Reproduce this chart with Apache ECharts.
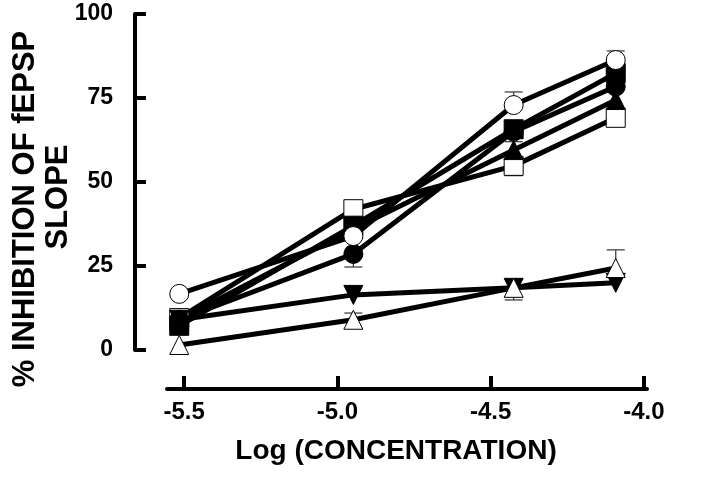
<!DOCTYPE html>
<html>
<head>
<meta charset="utf-8">
<script src="https://cdn.jsdelivr.net/npm/echarts@6/dist/echarts.min.js"></script>
<style>html,body{margin:0;padding:0;background:#fff}#c{width:720px;height:482px}</style>
</head>
<body>
<div id="c"></div>
<script>
// Log concentration of each dose (in axis units)
const xVals = [-5.516, -4.948, -4.425, -4.092];
const xTicks = [-5.5, -5.0, -4.5, -4.0];
const yTicks = [0, 25, 50, 75, 100];

// % inhibition of fEPSP slope
const openSquare    = [9.5, 41.9, 54.8, 69.1];
const filledTriangle= [9.0, 36.0, 59.5, 74.4];
const filledCircle  = [9.0, 28.6, 65.0, 78.4];
const filledSquare  = [7.2, 37.0, 65.7, 82.4];
const invTriangle   = [9.0, 16.4, 18.5, 20.0];
const openTriangle  = [1.5, 9.0, 18.5, 24.4];
const openCircle    = [16.7, 33.9, 72.9, 86.3];

// error bar ends (null = not shown)
const errOpenCircle   = [null, null, 76.8, 89.0];
const errFilledCircle = [null, 24.7, null, null];
const errFilledSquare = [null, null, 62.0, null];
const errOpenSquare   = [null, null, 51.9, null];
const errOpenTriangle = [null, 11.0, 14.9, 29.8];

const defs = [
  {vals: openSquare, err: errOpenSquare, symbol: 'rect', fill: '#fff', rot: 0},
  {vals: filledTriangle, err: null, symbol: 'triangle', fill: '#000', rot: 0},
  {vals: filledCircle, err: errFilledCircle, symbol: 'circle', fill: '#000', rot: 0},
  {vals: filledSquare, err: errFilledSquare, symbol: 'rect', fill: '#000', rot: 0},
  {vals: invTriangle, err: null, symbol: 'triangle', fill: '#000', rot: 180},
  {vals: openTriangle, err: errOpenTriangle, symbol: 'triangle', fill: '#fff', rot: 0},
  {vals: openCircle, err: errOpenCircle, symbol: 'circle', fill: '#fff', rot: 0}
];

const series = [];
defs.forEach(d => {
  series.push({
    type: 'line', symbol: 'none', z: 2, silent: true,
    data: xVals.map((x, i) => [x, d.vals[i]]),
    lineStyle: {color: '#000', width: 5}
  });
});
const errData = [];
defs.forEach(d => {
  if (!d.err) return;
  d.err.forEach((e, i) => { if (e !== null) errData.push([xVals[i], d.vals[i], e]); });
});
series.push({
  type: 'custom', z: 3, silent: true,
  data: errData,
  renderItem: function (params, api) {
    const c = api.coord([api.value(0), api.value(1)]);
    const e = api.coord([api.value(0), api.value(2)]);
    const st = {stroke: '#444', lineWidth: 1.3};
    return {type: 'group', children: [
      {type: 'line', shape: {x1: c[0], y1: c[1], x2: e[0], y2: e[1]}, style: st},
      {type: 'line', shape: {x1: e[0] - 9, y1: e[1], x2: e[0] + 9, y2: e[1]}, style: st}
    ]};
  }
});
defs.forEach(d => {
  series.push({
    type: 'scatter', z: 4, silent: true,
    symbol: d.symbol, symbolSize: 19, symbolRotate: d.rot,
    data: xVals.map((x, i) => [x, d.vals[i]]),
    itemStyle: {color: d.fill, borderColor: '#000', borderWidth: 1, opacity: 1}
  });
});

const chart = echarts.init(document.getElementById('c'), null, {renderer: 'canvas'});
const font = '"Liberation Sans", Arial, sans-serif';
chart.setOption({
  animation: false,
  backgroundColor: '#fff',
  grid: {left: 167, right: 73, top: 14, bottom: 132, containLabel: false},
  xAxis: {
    type: 'value', min: -5.556, max: -3.99, offset: 39,
    axisLine: {show: true, onZero: false, lineStyle: {color: '#000', width: 4}},
    axisTick: {show: true, inside: true, length: 13, customValues: xTicks, lineStyle: {color: '#000', width: 4}},
    axisLabel: {customValues: xTicks, margin: 11, color: '#000', fontFamily: font, fontWeight: 'bold', fontSize: 24,
      formatter: v => v.toFixed(1)},
    splitLine: {show: false}
  },
  yAxis: {
    type: 'value', min: 0, max: 100, interval: 25, offset: 32,
    axisLine: {show: true, onZero: false, lineStyle: {color: '#000', width: 4}},
    axisTick: {show: true, inside: true, length: 11, lineStyle: {color: '#000', width: 4}},
    axisLabel: {margin: 22, color: '#000', fontFamily: font, fontWeight: 'bold', fontSize: 23},
    splitLine: {show: false}
  },
  graphic: [
    {type: 'text', x: 396, y: 451, silent: true,
      style: {text: 'Log (CONCENTRATION)', fill: '#000', font: 'bold 28px ' + font, align: 'center', verticalAlign: 'middle'}},
    {type: 'text', x: 25, y: 209, rotation: Math.PI / 2, silent: true,
      style: {text: '% INHIBITION OF fEPSP', fill: '#000', font: 'bold 31px ' + font, align: 'center', verticalAlign: 'middle'}},
    {type: 'text', x: 58, y: 197, rotation: Math.PI / 2, silent: true,
      style: {text: 'SLOPE', fill: '#000', font: 'bold 31px ' + font, align: 'center', verticalAlign: 'middle'}}
  ],
  series: series
});
</script>
</body>
</html>
